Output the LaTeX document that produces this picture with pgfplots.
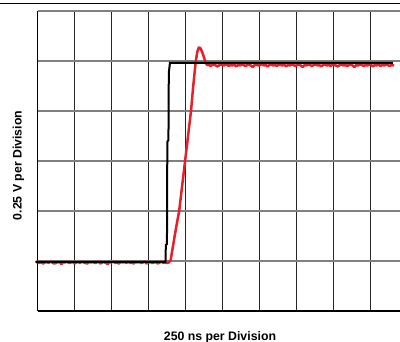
\documentclass[border=0pt]{standalone}
\usepackage{pgfplots}
\pgfplotsset{compat=1.18}
\usepackage{fontspec}
\setmainfont{Liberation Sans}
\definecolor{tracered}{RGB}{232,30,40}
\begin{document}
\begin{tikzpicture}[x=1pt,y=1pt]
\useasboundingbox (0,0) rectangle (400,342);
\draw[line width=1pt,black] (0,338.7) -- (400,338.7);
\begin{axis}[
  at={(37.5pt,31pt)}, anchor=south west,
  scale only axis, width=362.5pt, height=300pt,
  xmin=0, xmax=9.80, ymin=0, ymax=6,
  axis x line=bottom, axis y line=left,
  axis line style={-, black, line width=1.2pt},
  xtick={0,...,9}, ytick={0,...,6},
  xticklabels={}, yticklabels={},
  major tick length=0pt,
  xmajorgrids, ymajorgrids,
  x grid style={black!85, line width=1.1pt},
  y grid style={black!50, line width=1.4pt},
  clip=false,
]
\addplot[tracered, line width=2.5pt, line join=round] coordinates {
(-0.05,0.97) (0.00,0.99) (0.05,0.96) (0.10,0.98) (0.15,0.95) (0.20,0.97)
(0.25,0.98) (0.30,0.96) (0.35,0.99) (0.40,0.97) (0.45,0.95) (0.50,0.96)
(0.55,0.98) (0.60,0.97) (0.65,0.94) (0.70,0.98) (0.75,0.97) (0.80,0.99)
(0.85,0.96) (0.90,0.97) (0.95,0.98) (1.00,0.95) (1.05,0.97) (1.10,0.98)
(1.15,0.96) (1.20,0.99) (1.25,0.97) (1.30,0.96) (1.35,0.95) (1.40,0.98)
(1.45,0.97) (1.50,0.98) (1.55,0.96) (1.60,0.97) (1.65,0.99) (1.70,0.95)
(1.75,0.97) (1.80,0.98) (1.85,0.96) (1.90,0.94) (1.95,0.98) (2.00,0.97)
(2.05,0.99) (2.10,0.96) (2.15,0.97) (2.20,0.95) (2.25,0.98) (2.30,0.97)
(2.35,0.98) (2.40,0.96) (2.45,0.99) (2.50,0.96) (2.55,0.97) (2.60,0.95)
(2.65,0.98) (2.70,0.97) (2.75,0.98) (2.80,0.96) (2.85,0.97) (2.90,0.99)
(2.95,0.95) (3.00,0.97) (3.05,0.98) (3.10,0.96) (3.15,0.97) (3.20,0.98)
(3.25,0.95) (3.30,0.97) (3.35,0.99) (3.40,0.96) (3.45,0.97) (3.50,0.96)
(3.55,0.97) (3.60,1.02) (3.69,1.42) (3.76,1.72) (3.83,2.00) (3.91,2.50)
(3.99,3.00) (4.07,3.50) (4.15,4.00) (4.21,4.50) (4.28,5.00) (4.32,5.18)
(4.36,5.27) (4.40,5.26) (4.44,5.20) (4.49,5.10) (4.54,4.98) (4.58,4.92)
(4.62,4.93) (4.67,4.90) (4.72,4.92) (4.77,4.93) (4.82,4.91) (4.87,4.89)
(4.92,4.92) (4.97,4.93) (5.02,4.91) (5.07,4.92) (5.12,4.94) (5.17,4.90)
(5.22,4.92) (5.27,4.91) (5.32,4.93) (5.37,4.89) (5.42,4.92) (5.47,4.91)
(5.52,4.93) (5.57,4.92) (5.62,4.90) (5.67,4.92) (5.72,4.93) (5.77,4.91)
(5.82,4.88) (5.87,4.92) (5.92,4.93) (5.97,4.91) (6.02,4.92) (6.07,4.94)
(6.12,4.91) (6.17,4.92) (6.22,4.89) (6.27,4.92) (6.32,4.93) (6.37,4.91)
(6.42,4.92) (6.47,4.90) (6.52,4.93) (6.57,4.92) (6.62,4.91) (6.67,4.93)
(6.72,4.89) (6.77,4.92) (6.82,4.91) (6.87,4.93) (6.92,4.92) (6.97,4.90)
(7.02,4.92) (7.07,4.93) (7.12,4.91) (7.17,4.88) (7.22,4.92) (7.27,4.91)
(7.32,4.93) (7.37,4.92) (7.42,4.90) (7.47,4.92) (7.52,4.93) (7.57,4.91)
(7.62,4.92) (7.67,4.89) (7.72,4.92) (7.77,4.93) (7.82,4.91) (7.87,4.92)
(7.92,4.90) (7.97,4.93) (8.02,4.92) (8.07,4.91) (8.12,4.89) (8.17,4.92)
(8.22,4.93) (8.27,4.91) (8.32,4.92) (8.37,4.90) (8.42,4.92) (8.47,4.93)
(8.52,4.91) (8.57,4.88) (8.62,4.92) (8.67,4.91) (8.72,4.93) (8.77,4.92)
(8.82,4.90) (8.87,4.92) (8.92,4.91) (8.97,4.93) (9.02,4.92) (9.07,4.89)
(9.12,4.92) (9.17,4.91) (9.22,4.93) (9.27,4.90) (9.32,4.92) (9.37,4.91)
(9.42,4.93) (9.47,4.92) (9.52,4.90) (9.57,4.92) (9.64,4.91)
};
\addplot[black, line width=2pt] coordinates {
(-0.05,0.98) (3.46,0.98) (3.47,1.32) (3.50,1.34) (3.51,3.38) (3.54,3.42)
(3.55,4.76) (3.58,4.96) (9.61,4.96)
};
\end{axis}
\node[anchor=base, font=\bfseries\fontsize{12.3}{14}\selectfont] at (220,1.2) {250 ns per Division};
\node[anchor=base, rotate=90, font=\bfseries\fontsize{12.3}{14}\selectfont] at (21.5,176.5) {0.25 V per Division};
\end{tikzpicture}
\end{document}
